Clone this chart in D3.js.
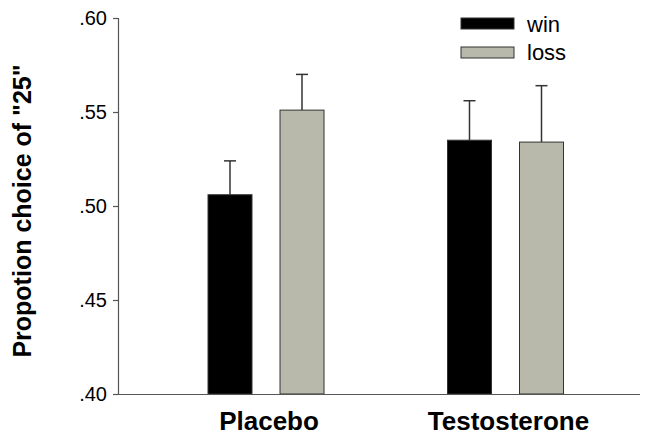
<!DOCTYPE html>
<html><head><meta charset="utf-8">
<script src="https://cdn.jsdelivr.net/npm/d3@7/dist/d3.min.js"></script>
<style>body{margin:0;background:#fff}svg{display:block}</style>
</head><body>
<script>
const categories = ["Placebo", "Testosterone"];
const series = ["win", "loss"];
const winValues = [0.506, 0.535];
const lossValues = [0.551, 0.534];
const winErrTop = [0.524, 0.556];
const lossErrTop = [0.570, 0.564];
const yTicks = [0.40, 0.45, 0.50, 0.55, 0.60];
const yTickLabels = [".40", ".45", ".50", ".55", ".60"];

const W = 648, H = 439;
const colors = {win: "#000000", loss: "#b8b8ab"};
const svg = d3.select("body").append("svg").attr("width", W).attr("height", H);
const font = "Liberation Sans, Arial, sans-serif";

const x0 = 118, yTop = 18, yBot = 394;
const y = d3.scaleLinear().domain([0.40, 0.60]).range([yBot, yTop]);
const xOuter = d3.scaleBand().domain(categories).range([x0, 653.5]).paddingInner(0).paddingOuter(0.118);
const xInner = d3.scaleBand().domain(series).range([-58, 58]).paddingInner(0.389).paddingOuter(0);

const data = [];
categories.forEach((c, i) => {
  data.push({cat: c, s: "win", v: winValues[i], e: winErrTop[i]});
  data.push({cat: c, s: "loss", v: lossValues[i], e: lossErrTop[i]});
});
const cx = d => xOuter(d.cat) + xOuter.bandwidth() / 2;

// error bars
const eg = svg.append("g").attr("stroke", "#333").attr("stroke-width", 1.5);
data.forEach(d => {
  const mx = cx(d) + xInner(d.s) + xInner.bandwidth() / 2;
  eg.append("line").attr("x1", mx).attr("x2", mx).attr("y1", y(d.v)).attr("y2", y(d.e));
  eg.append("line").attr("x1", mx - 6).attr("x2", mx + 6).attr("y1", y(d.e)).attr("y2", y(d.e));
});

// bars
svg.append("g").selectAll("rect").data(data).join("rect")
  .attr("x", d => cx(d) + xInner(d.s))
  .attr("width", xInner.bandwidth())
  .attr("y", d => y(d.v))
  .attr("height", d => y(0.40) - y(d.v))
  .attr("fill", d => colors[d.s])
  .attr("stroke", "#333").attr("stroke-width", 1);

// baseline
svg.append("line").attr("x1", x0).attr("x2", 640).attr("y1", yBot + 0.5).attr("y2", yBot + 0.5)
  .attr("stroke", "#555").attr("stroke-width", 1.2);

// y axis
const yAxis = d3.axisLeft(y).tickValues(yTicks).tickFormat((d, i) => yTickLabels[i]).tickSize(5).tickPadding(6);
const ga = svg.append("g").attr("transform", `translate(${x0},0)`).call(yAxis);
ga.select(".domain").attr("stroke", "#555").attr("stroke-width", 1.2);
ga.selectAll(".tick line").attr("stroke", "#555").attr("stroke-width", 1.2);
ga.selectAll(".tick text").attr("font-family", font).attr("font-size", 20).attr("fill", "#000");

// y title
svg.append("text").attr("transform", `translate(31,${(yTop + yBot) / 2 + 5}) rotate(-90)`)
  .attr("text-anchor", "middle").attr("font-family", font).attr("font-weight", "bold")
  .attr("font-size", 25).text('Propotion choice of "25"');

// category labels
svg.append("g").selectAll("text").data(categories).join("text")
  .attr("x", d => xOuter(d) + xOuter.bandwidth() / 2 + 3)
  .attr("y", 430).attr("text-anchor", "middle")
  .attr("font-family", font).attr("font-weight", "bold").attr("font-size", 26)
  .text(d => d);

// legend
const lg = svg.append("g");
series.forEach((s, i) => {
  lg.append("rect").attr("x", 461).attr("y", 18 + i * 29).attr("width", 53).attr("height", 11)
    .attr("fill", colors[s]).attr("stroke", "#333").attr("stroke-width", 1);
  lg.append("text").attr("x", 527).attr("y", 32 + i * 28)
    .attr("font-family", font).attr("font-size", 22).text(s);
});
</script>
</body></html>
